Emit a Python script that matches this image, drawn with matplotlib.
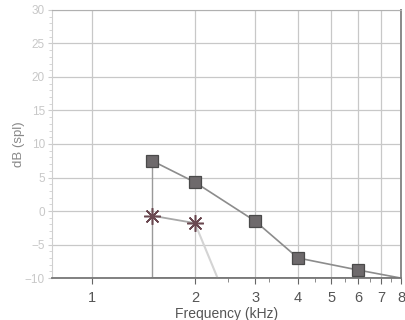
import matplotlib
matplotlib.use("Agg")
import matplotlib.pyplot as plt
from matplotlib.ticker import FixedLocator, NullFormatter, MultipleLocator

plt.rcParams['font.family'] = ['Liberation Sans', 'DejaVu Sans']

# Data (kHz, dB spl)
sq_freq = [1.5, 2, 3, 4, 6]
sq_db = [7.5, 4.3, -1.5, -7.0, -8.8]
sq_end_freq = 8
sq_end_db = -10

star_freq = [1.5, 2]
star_db = [-0.7, -1.8]
star_tail_freq = 2.33
star_tail_db = -10

floor_freq = [1.5, 8]
floor_db = [-10, -10]

x_ticks = [1, 2, 3, 4, 5, 6, 7, 8]
x_labels = ['1', '2', '3', '4', '5', '6', '7', '8']
y_ticks = [-10, -5, 0, 5, 10, 15, 20, 25, 30]

fig = plt.figure(figsize=(4.05, 3.2), dpi=100)
ax = fig.add_axes([0.128, 0.131, 0.862, 0.838])
ax.set_xscale('log')
ax.set_xlim(0.764, 8)
ax.set_ylim(-10, 30)

# grid
ax.xaxis.set_major_locator(FixedLocator(x_ticks))
ax.set_xticklabels(x_labels)
ax.xaxis.set_minor_locator(FixedLocator([2.5, 3.3, 4.5, 5.5, 6.5, 7.5]))
ax.xaxis.set_minor_formatter(NullFormatter())
ax.yaxis.set_major_locator(FixedLocator(y_ticks))
ax.yaxis.set_minor_locator(MultipleLocator(1))
ax.grid(True, which='major', color='#c8c8c8', linewidth=0.9)

# lines
ax.plot([sq_freq[0], sq_freq[0]], [sq_db[0], -10], color='#9a9a9a', lw=1.0, zorder=2)
ax.plot(floor_freq, floor_db, color='#8a8a8a', lw=1.2, zorder=2)
ax.plot([star_freq[-1], star_tail_freq], [star_db[-1], star_tail_db], color='#d4d4d4', lw=1.5, zorder=2)
ax.plot(star_freq, star_db, color='#a8a8a8', lw=1.3, zorder=2)
ax.plot(sq_freq + [sq_end_freq], sq_db + [sq_end_db], color='#8c8c8c', lw=1.2, zorder=2)
ax.plot(sq_freq, sq_db, linestyle='none', marker='s', markersize=8.5,
        markerfacecolor='#6e6a6c', markeredgecolor='#4a4a4a', markeredgewidth=0.9, zorder=3)
ax.plot(star_freq, star_db, linestyle='none', marker=(8, 2, 0), markersize=12,
        markeredgecolor='#6a4850', markeredgewidth=1.1, zorder=3)

# spines
ax.spines['left'].set_color('#cfcfcf')
ax.spines['left'].set_linewidth(0.8)
ax.spines['top'].set_color('#b0b0b0')
ax.spines['right'].set_color('#8a8a8a')
ax.spines['right'].set_linewidth(1.4)
ax.spines['bottom'].set_color('#777777')
ax.spines['bottom'].set_linewidth(1.3)

ax.tick_params(axis='x', which='major', length=4, color='#666666', labelsize=10.5,
               labelcolor='#555555', pad=5)
ax.tick_params(axis='x', which='minor', length=3, color='#777777')
ax.tick_params(axis='y', which='major', length=3, color='#cccccc', labelsize=8.5,
               labelcolor='#c8c8c8', pad=2)
ax.tick_params(axis='y', which='minor', length=2, color='#d0d0d0')

ax.set_xlabel('Frequency (kHz)', fontsize=10, color='#555555', labelpad=2)
ax.set_ylabel('dB (spl)', fontsize=9.5, color='#888888', labelpad=0)

fig.savefig('out.png', dpi=100)
